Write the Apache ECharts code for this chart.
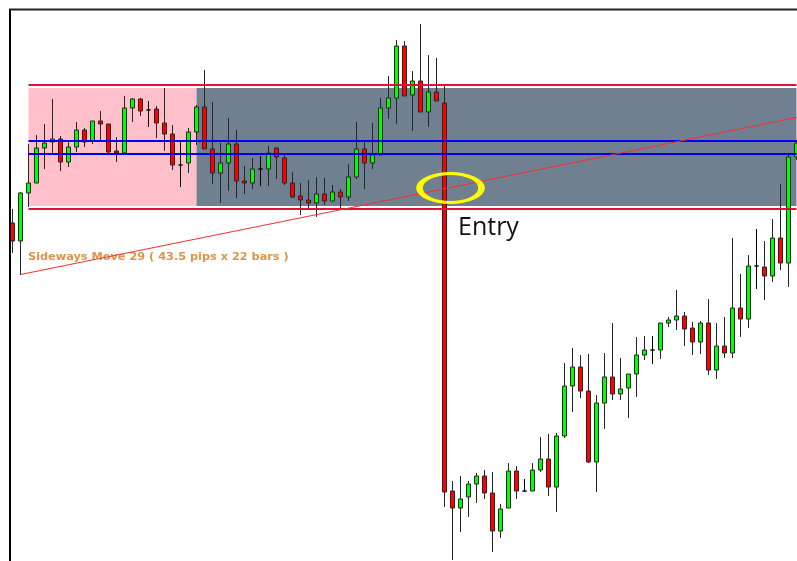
<!DOCTYPE html>
<html>
<head>
<meta charset="utf-8">
<script src="https://cdn.jsdelivr.net/npm/echarts@6/dist/echarts.min.js"></script>
<style>
  html, body { margin: 0; padding: 0; background: #fff; overflow: hidden; }
  /* a bit wider than the window so the last bar is cut at the right edge like the screenshot */
  #chart { width: 805px; height: 561px; }
</style>
</head>
<body>
<div id="chart"></div>
<script>
// price, 1 unit = 1 screen px, 0 = bottom edge of the window
const opens = [338, 320, 368, 378, 413, 419, 422, 399, 414, 431, 420, 440, 437, 410, 408, 453, 462, 451, 452, 438,
  427, 396, 398, 429, 454, 412, 388, 398, 417, 380, 378, 392, 392, 413, 403, 378, 365, 361, 358, 367,
  360, 369, 364, 384, 412, 398, 406, 453, 463, 515, 466, 480, 449, 469, 458, 70, 53, 64, 77, 85,
  68, 30, 53, 90, 70, 70, 91, 102, 74, 125, 175, 194, 170, 99, 158, 184, 167, 173, 187, 206,
  211, 211, 238, 241, 245, 233, 219, 238, 191, 215, 208, 253, 242, 295, 294, 285, 323, 298, 404]
const closes = [320, 368, 378, 413, 418, 422, 399, 414, 431, 419, 440, 437, 409, 408, 453, 462, 450, 451, 438, 427,
  396, 396, 429, 454, 412, 388, 398, 417, 380, 378, 392, 392, 408, 404, 378, 364, 361, 358, 367, 360,
  369, 364, 384, 412, 398, 406, 453, 463, 515, 465, 480, 449, 469, 460, 69, 53, 62, 77, 85, 68,
  30, 52, 90, 70, 70, 91, 102, 74, 125, 175, 194, 170, 99, 158, 184, 167, 172, 187, 206, 211,
  211, 238, 241, 245, 232, 219, 238, 191, 215, 208, 253, 242, 295, 295, 285, 323, 298, 404, 418]
const lows = [308, 286, 354, 378, 392, 406, 390, 394, 409, 414, 417, 420, 406, 399, 408, 439, 445, 434, 423, 410,
  391, 374, 388, 416, 412, 377, 358, 370, 363, 367, 372, 375, 375, 382, 376, 363, 346, 352, 344, 356,
  359, 351, 360, 382, 372, 392, 406, 442, 437, 465, 430, 449, 434, 460, 54, 1, 29, 44, 58, 62,
  9, 23, 53, 62, 69, 70, 89, 65, 49, 123, 149, 163, 98, 69, 132, 161, 161, 143, 164, 201,
  197, 202, 234, 231, 215, 206, 207, 186, 182, 203, 203, 224, 233, 272, 261, 279, 291, 274, 401]
const highs = [352, 369, 417, 426, 437, 462, 425, 419, 439, 433, 440, 450, 437, 424, 465, 463, 463, 460, 455, 473,
  436, 419, 433, 456, 491, 459, 418, 443, 431, 395, 403, 405, 415, 414, 408, 389, 378, 381, 384, 383,
  376, 372, 397, 439, 420, 438, 463, 485, 521, 520, 490, 537, 506, 503, 476, 80, 85, 80, 88, 91,
  89, 57, 98, 95, 82, 98, 124, 127, 128, 198, 213, 206, 207, 166, 208, 238, 203, 187, 224, 225,
  225, 238, 244, 271, 249, 239, 240, 262, 238, 244, 323, 287, 306, 332, 320, 342, 377, 407, 421]

// sideways box and levels
const rangeTop = 476
const rangeBottom = 352.5
const boxTop = 473
const boxBottom = 355
const blueLevels = [420, 407.5]
const boxStart = 2
const boxSwitch = 23
const lastBar = 98
const trendFrom = [1, 286.5]
const trendTo = [98, 443.5]
const entryPoint = [54, 373]

const categories = opens.map((_, i) => String(i))
const candles = opens.map((o, i) => [o, closes[i], lows[i], highs[i]])

const hLine = (v, color, width) => [
  { xAxis: boxStart, yAxis: v, lineStyle: { color: color, width: width, type: 'solid' } },
  { xAxis: lastBar, yAxis: v }
]

const chart = echarts.init(document.getElementById('chart'), null, { renderer: 'canvas' })

chart.setOption({
  backgroundColor: '#fff',
  animation: false,
  grid: { left: 8.5, right: 4.5, top: 9, bottom: 0 },
  xAxis: {
    type: 'category',
    data: categories,
    boundaryGap: true,
    axisLine: { show: false },
    axisTick: { show: false },
    axisLabel: { show: false },
    splitLine: { show: false }
  },
  yAxis: {
    type: 'value',
    min: 0,
    max: 552,
    axisLine: { show: false },
    axisTick: { show: false },
    axisLabel: { show: false },
    splitLine: { show: false }
  },
  series: [
    {
      type: 'candlestick',
      data: candles,
      barWidth: 5,
      silent: true,
      itemStyle: {
        color: '#00ff00',
        color0: '#ff0000',
        borderColor: '#262626',
        borderColor0: '#262626',
        borderColorDoji: '#000',
        borderWidth: 1
      },
      markArea: {
        silent: true,
        label: { show: false },
        data: [
          [{ xAxis: boxStart, yAxis: boxBottom, itemStyle: { color: '#ffc0cb' } }, { xAxis: boxSwitch, yAxis: boxTop }],
          [{ xAxis: boxSwitch, yAxis: boxBottom, itemStyle: { color: '#708090' } }, { xAxis: lastBar, yAxis: boxTop }]
        ]
      },
      markLine: {
        silent: true,
        symbol: ['none', 'none'],
        label: { show: false },
        data: [
          hLine(rangeTop, '#dc143c', 2),
          hLine(rangeBottom, '#dc143c', 2),
          hLine(blueLevels[0], '#0000f0', 2),
          hLine(blueLevels[1], '#0000f0', 2),
          [
            { coord: trendFrom, lineStyle: { color: '#f23030', width: 1, type: 'solid' } },
            { coord: trendTo }
          ]
        ]
      }
    },
    {
      type: 'scatter',
      data: [entryPoint],
      silent: true,
      z: 6,
      symbol: 'circle',
      symbolSize: [62, 29],
      symbolOffset: [6, 0],
      itemStyle: { color: 'rgba(0,0,0,0)', borderColor: '#ffff00', borderWidth: 4.5, opacity: 1 }
    }
  ],
  graphic: [
    { type: 'line', z: 10, shape: { x1: 10, y1: 9, x2: 10, y2: 561 }, style: { stroke: '#000', lineWidth: 2 } },
    { type: 'line', z: 10, shape: { x1: 9, y1: 9.5, x2: 805, y2: 9.5 }, style: { stroke: '#222', lineWidth: 2 } },
    {
      type: 'text', z: 10, x: 458, y: 228,
      style: { text: 'Entry', fill: '#111', fontSize: 25, fontFamily: 'Open Sans', verticalAlign: 'middle', align: 'left' }
    },
    {
      type: 'text', z: 4, x: 28, y: 257,
      style: { text: 'Sideways Move 29 ( 43.5 pips x 22 bars )', fill: '#dc9548', fontSize: 11.3, fontWeight: 'bold', fontFamily: 'DejaVu Sans', verticalAlign: 'middle', align: 'left' }
    }
  ]
})
</script>
</body>
</html>
